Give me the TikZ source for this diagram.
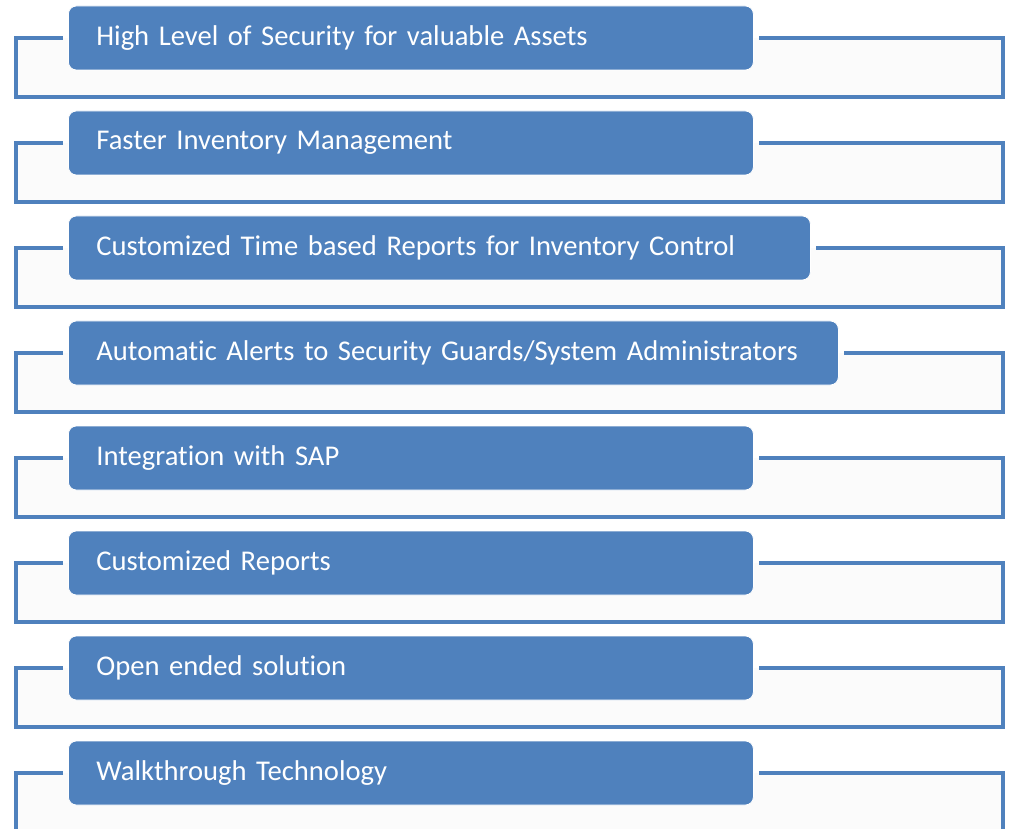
\documentclass[tikz,border=0pt]{standalone}
\usepackage{fontspec}
\setmainfont{Carlito}[Ligatures=NoCommon]
\usetikzlibrary{calc}
\pgfdeclarelayer{background}
\pgfsetlayers{background,main}
\definecolor{acc}{HTML}{4F81BD}
\definecolor{pane}{HTML}{FBFBFB}
\tikzset{
  itembox/.style={draw=white, line width=0.8pt, fill=acc, rounded corners=8pt, anchor=west,
    minimum height=64pt, inner xsep=28pt, inner ysep=0pt, align=left, text=white,
    font=\fontsize{28.6}{34}\selectfont},
  bracket/.style={draw=acc, line width=4.5pt},
  panefill/.style={fill=pane}
}
\newcommand{\rowitem}[4]{% #1 name, #2 center y, #3 text width, #4 text
  \node[itembox, text width=#3pt] (#1) at (68,#2) {#4};
  \coordinate (#1l) at (16,#2+59);
  \coordinate (#1r) at (1003,#2+59);
}
\begin{document}
\begin{tikzpicture}[x=1pt,y=-1pt]
\useasboundingbox (0,0) rectangle (1013,829);
\clip (0,0) rectangle (1013,829);
\rowitem{b1}{38}{629}{High Level of Security for valuable Assets}
\rowitem{b2}{143}{629}{Faster Inventory Management}
\rowitem{b3}{248}{686}{Customized Time based Reports for Inventory Control}
\rowitem{b4}{353}{714}{Automatic Alerts to Security Guards/System Administrators}
\rowitem{b5}{458}{629}{Integration with SAP}
\rowitem{b6}{563}{629}{Customized Reports}
\rowitem{b7}{668}{629}{Open ended solution}
\rowitem{b8}{773}{629}{Walkthrough Technology}
\begin{pgfonlayer}{background}
\fill[white] (0,0) rectangle (1013,829);
\foreach \b in {b1,b2,b3,b4,b5,b6,b7,b8}{
  \fill[panefill] (\b l) rectangle (\b r |- \b.west);
  \draw[bracket] ($(\b.west)+(-5,0)$) -| (\b l) -- (\b r) |- ($(\b.east)+(5,0)$);
}
\end{pgfonlayer}
\end{tikzpicture}
\end{document}
